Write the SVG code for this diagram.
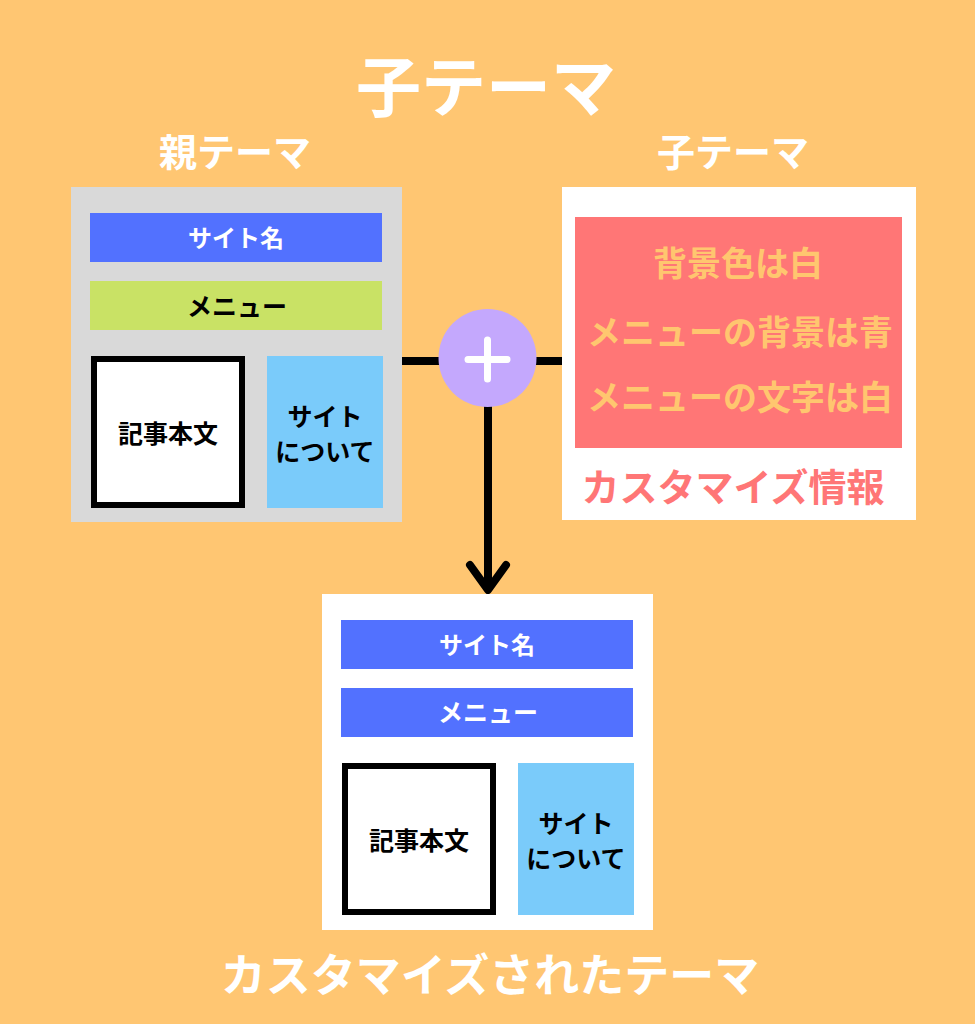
<svg xmlns="http://www.w3.org/2000/svg" width="975" height="1024" viewBox="0 0 975 1024">
<style>
text{font-family:"Noto Sans CJK JP","Noto Sans",sans-serif;font-weight:700;text-anchor:middle;dominant-baseline:central}
.wt{fill:#FFFFFF}
.bk{fill:#000000}
.blue{fill:#5271FF}
.lb{fill:#7ACBFA}
.ln{stroke:#000;stroke-width:8;fill:none;stroke-linecap:round;stroke-linejoin:round}
</style>
<rect x="0" y="0" width="975" height="1024" fill="#FFC672"/>
<g id="title">
<text x="486" y="83" class="wt" font-size="65">子テーマ</text>
</g>
<g id="labels">
<text x="235" y="149" class="wt" font-size="38">親テーマ</text>
<text x="733" y="149" class="wt" font-size="38">子テーマ</text>
</g>
<g id="connectors">
<line x1="402" y1="361" x2="440" y2="361" stroke="#000" stroke-width="8"/>
<line x1="535" y1="361" x2="562" y2="361" stroke="#000" stroke-width="8"/>
<line x1="488" y1="405" x2="488" y2="590" stroke="#000" stroke-width="8"/>
<polyline class="ln" points="470,565 488,590 506,565"/>
</g>
<g id="parent-theme">
<rect x="71" y="187" width="331" height="335" fill="#D9D9D9"/>
<rect x="90" y="213" width="292" height="49" class="blue"/>
<text x="236" y="236" class="wt" font-size="24">サイト名</text>
<rect x="90" y="281" width="292" height="49" fill="#C9E265"/>
<text x="237" y="305" class="bk" font-size="25">メニュー</text>
<rect x="94" y="359" width="148" height="146" fill="#FFFFFF" stroke="#000" stroke-width="6"/>
<text x="168" y="432" class="bk" font-size="25">記事本文</text>
<rect x="267" y="356" width="116" height="152" class="lb"/>
<text x="325" y="415" class="bk" font-size="25">サイト</text>
<text x="325" y="450" class="bk" font-size="25">について</text>
</g>
<g id="plus">
<circle cx="487.5" cy="358" r="49" fill="#C4A8FD"/>
<path d="M468 359.5H507M487.5 340V379" stroke="#FFFFFF" stroke-width="7" stroke-linecap="round" fill="none"/>
</g>
<g id="child-theme">
<rect x="562" y="187" width="354" height="333" fill="#FFFFFF"/>
<rect x="575" y="217" width="327" height="231" fill="#FF7676"/>
<text x="738" y="261" fill="#FFC66F" font-size="34">背景色は白</text>
<text x="740" y="330" fill="#FFC66F" font-size="34">メニューの背景は青</text>
<text x="740" y="395" fill="#FFC66F" font-size="34">メニューの文字は白</text>
<text x="733" y="484" fill="#FF7676" font-size="38">カスタマイズ情報</text>
</g>
<g id="customized-theme">
<rect x="322" y="594" width="331" height="336" fill="#FFFFFF"/>
<rect x="341" y="620" width="292" height="49" class="blue"/>
<text x="487" y="643" class="wt" font-size="24">サイト名</text>
<rect x="341" y="688" width="292" height="49" class="blue"/>
<text x="488" y="711" class="wt" font-size="25">メニュー</text>
<rect x="345" y="766" width="148" height="146" fill="#FFFFFF" stroke="#000" stroke-width="6"/>
<text x="419" y="839" class="bk" font-size="25">記事本文</text>
<rect x="518" y="763" width="116" height="152" class="lb"/>
<text x="576" y="822" class="bk" font-size="25">サイト</text>
<text x="576" y="857" class="bk" font-size="25">について</text>
<text x="490" y="972" class="wt" font-size="45">カスタマイズされたテーマ</text>
</g>
</svg>
